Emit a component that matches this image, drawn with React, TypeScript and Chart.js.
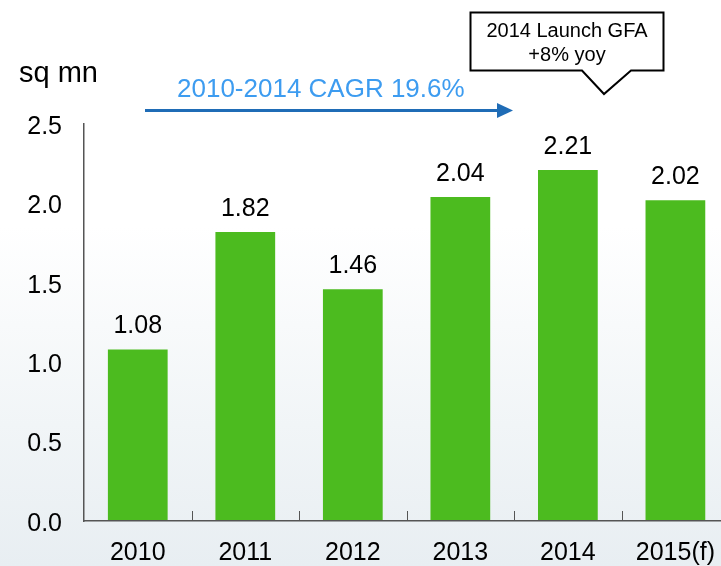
import React, { useEffect, useRef } from "react";
import { Chart, registerables } from "chart.js";

Chart.register(...registerables);

const categories = ["2010", "2011", "2012", "2013", "2014", "2015(f)"];
const values = [1.08, 1.82, 1.46, 2.04, 2.21, 2.02];
const yTicks = [0, 0.5, 1.0, 1.5, 2.0, 2.5];
const unitLabel = "sq mn";
const cagrLabel = "2010-2014 CAGR 19.6%";
const calloutLines = ["2014 Launch GFA", "+8% yoy"];

const FONT = '"Liberation Sans", Arial, sans-serif';
const BAR_COLOR = "#4cbb1f";
const AXIS_COLOR = "#555555";

const overlayPlugin = {
  id: "overlay",
  afterDatasetsDraw(chart: any) {
    const ctx = chart.ctx as CanvasRenderingContext2D;
    const meta = chart.getDatasetMeta(0);
    ctx.save();

    // value labels
    ctx.font = `25px ${FONT}`;
    ctx.fillStyle = "#000";
    ctx.textAlign = "center";
    ctx.textBaseline = "middle";
    meta.data.forEach((bar: any, i: number) => {
      ctx.fillText(values[i].toFixed(2), bar.x, bar.y - 23);
    });

    // inward category tick marks
    const xs = chart.scales.x;
    const bottom = chart.chartArea.bottom;
    ctx.strokeStyle = AXIS_COLOR;
    ctx.lineWidth = 1;
    for (let i = 1; i < categories.length; i++) {
      const x = Math.round((xs.getPixelForValue(i - 1) + xs.getPixelForValue(i)) / 2) + 0.5;
      ctx.beginPath();
      ctx.moveTo(x, bottom);
      ctx.lineTo(x, bottom - 10);
      ctx.stroke();
    }

    // unit label
    ctx.textAlign = "left";
    ctx.fillStyle = "#000";
    ctx.font = `29px ${FONT}`;
    ctx.fillText(unitLabel, 19, 74);

    // CAGR text + arrow
    ctx.fillStyle = "#3d9cf0";
    ctx.font = `26px ${FONT}`;
    ctx.fillText(cagrLabel, 177, 90);

    ctx.strokeStyle = "#1f6cb6";
    ctx.fillStyle = "#1f6cb6";
    ctx.lineWidth = 3;
    ctx.beginPath();
    ctx.moveTo(145, 110.5);
    ctx.lineTo(500, 110.5);
    ctx.stroke();
    ctx.beginPath();
    ctx.moveTo(497, 103);
    ctx.lineTo(513, 110.5);
    ctx.lineTo(497, 118);
    ctx.closePath();
    ctx.fill();

    // callout
    ctx.beginPath();
    ctx.moveTo(470.5, 12.5);
    ctx.lineTo(663.5, 12.5);
    ctx.lineTo(663.5, 70.5);
    ctx.lineTo(631, 70.5);
    ctx.lineTo(604, 94);
    ctx.lineTo(582, 70.5);
    ctx.lineTo(470.5, 70.5);
    ctx.closePath();
    ctx.fillStyle = "#ffffff";
    ctx.fill();
    ctx.strokeStyle = "#000";
    ctx.lineWidth = 2;
    ctx.stroke();

    ctx.fillStyle = "#000";
    ctx.textAlign = "center";
    ctx.font = `20px ${FONT}`;
    ctx.fillText(calloutLines[0], 567, 31);
    ctx.fillText(calloutLines[1], 567, 55);

    ctx.restore();
  },
};

export default function App() {
  const ref = useRef<HTMLCanvasElement | null>(null);

  useEffect(() => {
    if (!ref.current) return;
    const chart = new Chart(ref.current, {
      type: "bar",
      data: {
        labels: categories,
        datasets: [
          {
            data: values,
            backgroundColor: BAR_COLOR,
            borderWidth: 0,
            barPercentage: 0.5556,
            categoryPercentage: 1,
          },
        ],
      },
      options: {
        animation: false,
        responsive: false,
        devicePixelRatio: 1,
        layout: { padding: { top: 124, left: 0, right: 0, bottom: 0 } },
        plugins: {
          legend: { display: false },
          tooltip: { enabled: false },
          title: { display: false },
        },
        scales: {
          x: {
            offset: true,
            grid: { display: false, drawTicks: false },
            border: { display: true, color: AXIS_COLOR, width: 1.5, z: 1 },
            ticks: {
              color: "#000",
              font: { family: FONT, size: 25 },
              padding: 17,
              maxRotation: 0,
              autoSkip: false,
            },
            afterFit: (scale: any) => {
              scale.height = 45;
            },
          },
          y: {
            min: 0,
            max: 2.5,
            grid: { display: false, drawTicks: false },
            border: { display: true, color: AXIS_COLOR, width: 1.5 },
            afterBuildTicks: (scale: any) => {
              scale.ticks = yTicks.map((v) => ({ value: v }));
            },
            ticks: {
              color: "#000",
              font: { family: FONT, size: 25 },
              padding: 22,
              labelOffset: 3,
              callback: (v: any) => Number(v).toFixed(1),
            },
            afterFit: (scale: any) => {
              scale.width = 84;
            },
          },
        },
      },
      plugins: [overlayPlugin],
    });
    return () => chart.destroy();
  }, []);

  return (
    <div
      style={{
        position: "fixed",
        left: 0,
        top: 0,
        width: 721,
        height: 566,
        overflow: "hidden",
        background:
          "linear-gradient(to bottom, #ffffff 0%, #ffffff 40%, #f1f5f7 75%, #e8eef2 100%)",
      }}
    >
      <canvas ref={ref} width={732} height={566} style={{ display: "block" }} />
    </div>
  );
}
